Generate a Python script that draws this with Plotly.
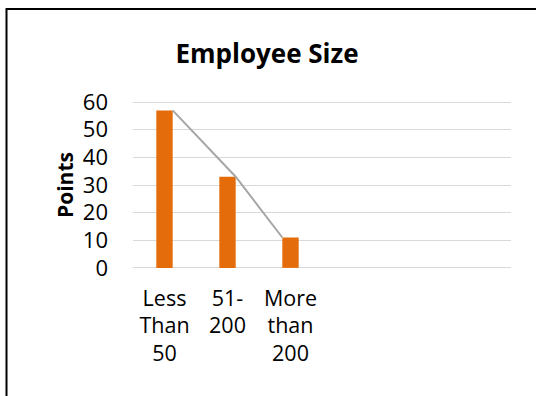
import plotly.graph_objects as go

categories = ["Less<br>Than<br>50", "51-<br>200", "More<br>than<br>200", "", "", ""]
values = [57, 33, 11]
line_offsets = [0.13, 0.13, -0.13]

W, H = 536, 396
pad = 0.4
L, R = 133, 25
top_px, bot_px = 102.3, 267.7   # pixel positions of 60 and 0
unit = (bot_px - top_px) / 60
T = top_px - pad * unit
B = H - (bot_px + pad * unit)
pw, ph = W - L - R, H - T - B

font = "Open Sans, sans-serif"
idx = list(range(len(categories)))

fig = go.Figure()
fig.add_trace(go.Bar(x=idx[:len(values)], y=values, width=0.26,
                     marker=dict(color="#E46C0A", line=dict(width=0))))
fig.add_trace(go.Scatter(x=[i + o for i, o in zip(idx, line_offsets)], y=values,
                         mode="lines", line=dict(color="#A6A6A6", width=2)))

def px_to_paper_x(px):
    return (px - L) / pw

def px_to_paper_y(py):
    return (H - B - py) / ph

fig.add_shape(type="rect", xref="paper", yref="paper",
              x0=px_to_paper_x(6.5), x1=px_to_paper_x(600),
              y0=px_to_paper_y(500), y1=px_to_paper_y(9.5),
              line=dict(color="#000000", width=2), fillcolor="rgba(0,0,0,0)", layer="above")

fig.update_layout(
    width=W, height=H, margin=dict(l=L, r=R, t=T, b=B),
    paper_bgcolor="white", plot_bgcolor="white", showlegend=False,
    font=dict(family=font, size=20, color="#000000"),
    title=dict(text="<b>Employee Size</b>", x=267 / W, xanchor="center",
               y=1 - 54 / H, yanchor="middle", font=dict(size=26, family=font, color="#000000")),
    xaxis=dict(range=[-0.5, 5.5], tickvals=idx, ticktext=categories, showgrid=False,
               zeroline=False, showline=False, ticks="", tickangle=0,
               ticklabelstandoff=14, tickfont=dict(size=21.5)),
    yaxis=dict(range=[-pad, 60 + pad], tickvals=[0, 10, 20, 30, 40, 50, 60],
               showgrid=True, gridcolor="#D9D9D9", gridwidth=1.3,
               zeroline=False, showline=False, ticks="", ticklabelstandoff=24,
               tickfont=dict(size=22),
               title=dict(text="<b>Points</b>", font=dict(size=21, family=font), standoff=3)),
)

fig.write_html("out.html")
